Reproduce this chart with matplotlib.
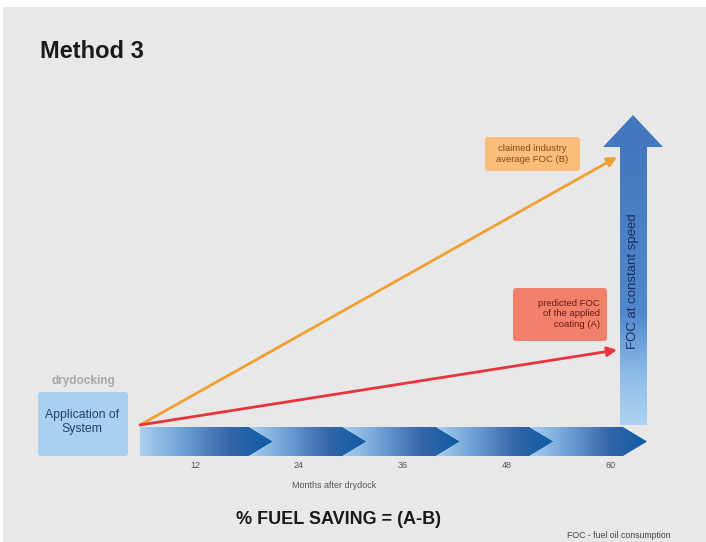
import numpy as np
import matplotlib
matplotlib.use("Agg")
import matplotlib.pyplot as plt
from matplotlib.patches import Polygon, FancyBboxPatch, Rectangle
from matplotlib.colors import LinearSegmentedColormap

plt.rcParams['font.family'] = ['Liberation Sans', 'DejaVu Sans']

# data
months = [0, 60]
foc_claimed = [0, 100]      # claimed industry average FOC (B)
foc_predicted = [0, 28]     # predicted FOC of the applied coating (A)
tick_labels = ['12', '24', '36', '48', '60']

W, H = 706, 542
fig = plt.figure(figsize=(W / 100, H / 100), dpi=100)
fig.patch.set_facecolor('white')

# layout axes in pixel units
ax = fig.add_axes([0, 0, 1, 1])
ax.axis('off')

ax.add_patch(Rectangle((3, 7), W, H, facecolor='#e8e8e8', edgecolor='none', zorder=0))

ax.text(40, 51, 'Method 3', fontsize=17, fontweight='bold', color='#1a1a1a',
        va='center', ha='left')

# drydocking box
ax.text(83, 381, 'drydocking', fontsize=8.5, fontweight='bold', color='#a8a8a8',
        ha='center', va='center')
ax.add_patch(FancyBboxPatch((40, 394), 86, 60, boxstyle='round,pad=2,rounding_size=3',
                            facecolor='#a9d0ef', edgecolor='none', zorder=2))
ax.text(82, 422, 'Application of\nSystem', fontsize=8.8, color='#24406e',
        ha='center', va='center', linespacing=1.15, zorder=3)

# chevrons with gradient
cmap_ch = LinearSegmentedColormap.from_list('ch', ['#a9d0f0', '#6b9fd4', '#3566a8', '#0d5ca6'])
grad = np.linspace(0, 1, 256).reshape(1, -1)
tip0, step, point = 273, 93.5, 24
ytop, ybot = 427, 456
ymid = (ytop + ybot) / 2
for i in range(len(tick_labels)):
    tip = tip0 + i * step
    if i == 0:
        xs = 140
        pts = [(xs, ytop), (tip - point, ytop), (tip, ymid), (tip - point, ybot), (xs, ybot)]
    else:
        xs = tip0 + (i - 1) * step - point
        pts = [(xs, ytop), (tip - point, ytop), (tip, ymid), (tip - point, ybot),
               (xs, ybot), (xs + point, ymid)]
    poly = Polygon(pts, closed=True, facecolor='none', edgecolor='none', zorder=2)
    ax.add_patch(poly)
    im = ax.imshow(grad, cmap=cmap_ch, extent=[xs, tip, ybot, ytop],
                   aspect='auto', zorder=2, interpolation='bilinear')
    im.set_clip_path(poly)

for i, lab in enumerate(tick_labels):
    ax.text(195 + i * 104, 466, lab, fontsize=6.5, color='#555555', ha='center', va='center')
ax.text(334, 485, 'Months after drydock', fontsize=6.5, color='#555555', ha='center', va='center')

# vertical FOC arrow
cmap_v = LinearSegmentedColormap.from_list(
    'v', [(0, '#aed2f0'), (0.18, '#8fbce8'), (0.4, '#5088cc'), (1, '#4478be')])
shaft = Rectangle((620, 146), 27, 279, facecolor='none', edgecolor='none', zorder=2)
ax.add_patch(shaft)
imv = ax.imshow(np.linspace(0, 1, 256).reshape(-1, 1), cmap=cmap_v,
                extent=[620, 647, 425, 146], aspect='auto', zorder=2,
                interpolation='bilinear', origin='lower')
imv.set_clip_path(shaft)
ax.add_patch(Polygon([(603, 147), (633, 115), (663, 147)], closed=True,
                     facecolor='#4478be', edgecolor='none', zorder=2))
ax.text(633, 281, 'FOC at constant speed', fontsize=9.5, color='#1c2f5a', rotation=90,
        ha='center', va='center', zorder=3)

# label boxes
ax.add_patch(FancyBboxPatch((487, 139), 91, 30, boxstyle='round,pad=2,rounding_size=3',
                            facecolor='#fbbd7a', edgecolor='none', zorder=2))
ax.text(532, 154, 'claimed industry\naverage FOC (B)', fontsize=6.8, color='#8a4a10',
        ha='center', va='center', linespacing=1.2, zorder=3)
ax.add_patch(FancyBboxPatch((515, 290), 90, 49, boxstyle='round,pad=2,rounding_size=3',
                            facecolor='#f2806a', edgecolor='none', zorder=2))
ax.text(600, 314, 'predicted FOC\nof the applied\ncoating (A)', fontsize=6.8, color='#6a1a10',
        ha='right', va='center', linespacing=1.2, zorder=3)

ax.text(338, 520, '% FUEL SAVING = (A-B)', fontsize=13, fontweight='bold', color='#1a1a1a',
        ha='center', va='center')
ax.text(619, 535, 'FOC - fuel oil consumption', fontsize=6.3, color='#444444',
        ha='center', va='center')

ax.set_xlim(0, W)
ax.set_ylim(H, 0)

# data axes for the FOC lines
ax_d = fig.add_axes([140 / W, 1 - 425 / H, 477 / W, 268 / H])
ax_d.set_xlim(0, 60)
ax_d.set_ylim(0, 100)
ax_d.patch.set_alpha(0)
ax_d.axis('off')
for ys, col in [(foc_claimed, '#f0a030'), (foc_predicted, '#e8343c')]:
    ax_d.annotate('', xy=(months[1], ys[1]), xytext=(months[0], ys[0]),
                  arrowprops=dict(arrowstyle='-|>', color=col, lw=2, mutation_scale=14,
                                  shrinkA=0, shrinkB=0), annotation_clip=False)

fig.savefig('out.png', dpi=100)
